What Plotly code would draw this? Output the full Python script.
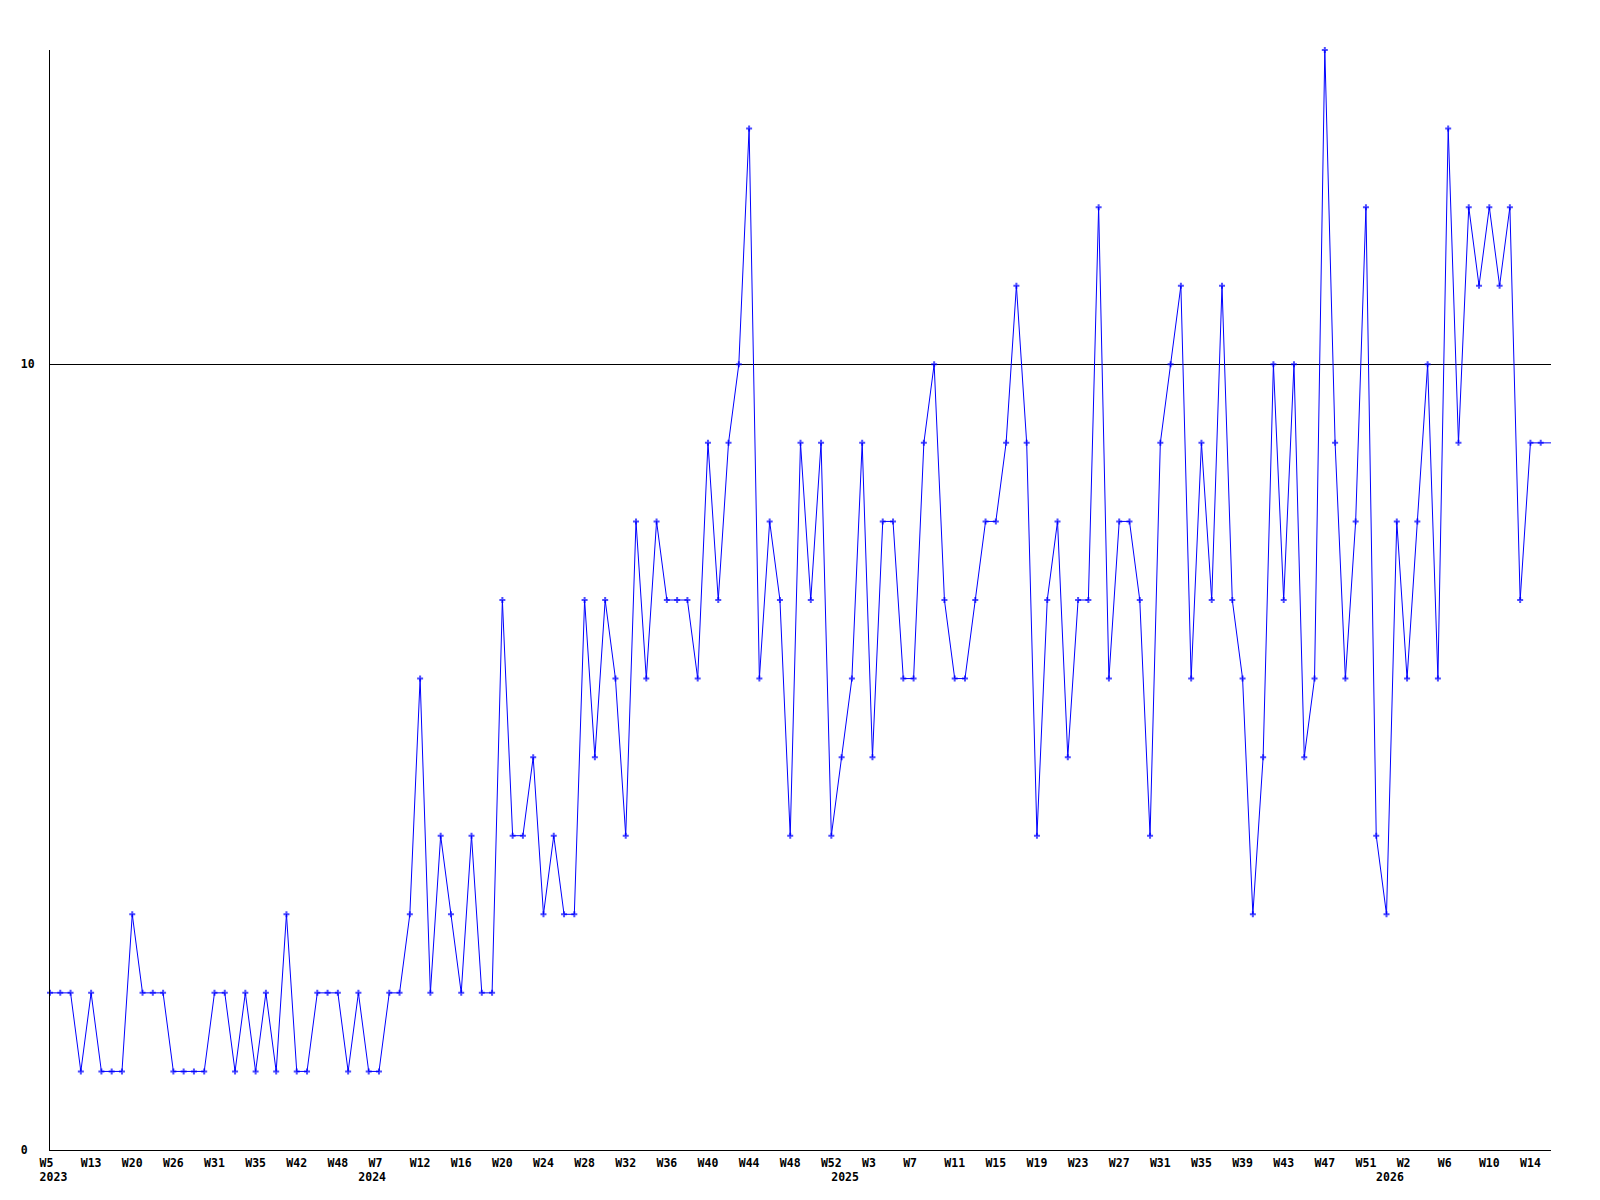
import plotly.graph_objects as go

# Weekly counts (one value per plotted week, in order)
values = [
    2, 2, 2, 1, 2, 1, 1, 1, 3, 2, 2, 2, 1, 1, 1, 1, 2, 2, 1, 2,
    1, 2, 1, 3, 1, 1, 2, 2, 2, 1, 2, 1, 1, 2, 2, 3, 6, 2, 4, 3,
    2, 4, 2, 2, 7, 4, 4, 5, 3, 4, 3, 3, 7, 5, 7, 6, 4, 8, 6, 8,
    7, 7, 7, 6, 9, 7, 9, 10, 13, 6, 8, 7, 4, 9, 7, 9, 4, 5, 6, 9,
    5, 8, 8, 6, 6, 9, 10, 7, 6, 6, 7, 8, 8, 9, 11, 9, 4, 7, 8, 5,
    7, 7, 12, 6, 8, 8, 7, 4, 9, 10, 11, 6, 9, 7, 11, 7, 6, 3, 5, 10,
    7, 10, 5, 6, 14, 9, 6, 8, 12, 4, 3, 8, 6, 8, 10, 6, 13, 9, 12, 11,
    12, 11, 12, 7, 9, 9,
]
# current (incomplete) week: drawn as line only
current_value = 9

# Week tick labels (every 4th plotted week)
week_labels = [
    "W5", "W13", "W20", "W26", "W31", "W35", "W42", "W48",
    "W7", "W12", "W16", "W20", "W24", "W28", "W32", "W36", "W40", "W44", "W48", "W52",
    "W3", "W7", "W11", "W15", "W19", "W23", "W27", "W31", "W35", "W39", "W43", "W47", "W51",
    "W2", "W6", "W10", "W14",
]
week_step = 4

# Year labels and the plotted-week index where each year begins
year_labels = ["2023", "2024", "2025", "2026"]
year_start_index = [0, 31, 77, 130]

y_tick_values = [0, 10]

NB = "\u00a0"

x_all = list(range(len(values) + 1))
y_all = values + [current_value]
marker_sizes = [5] * len(values) + [0]

week_tickvals = [i * week_step for i in range(len(week_labels))]
week_ticktext = [lab + NB * (3 - len(lab)) for lab in week_labels]
year_ticktext = [NB + y for y in year_labels]
y_ticktext = [str(v) + NB * (2 - len(str(v))) for v in y_tick_values]

font = dict(family="DejaVu Sans Mono", size=11.5, color="black", weight="bold")

fig = go.Figure()
fig.add_trace(go.Scatter(
    x=x_all, y=y_all, mode="lines+markers",
    line=dict(color="#0000ff", width=1),
    marker=dict(symbol="cross", size=marker_sizes, color="#0000ff", line=dict(width=0)),
    cliponaxis=False, showlegend=False, hoverinfo="x+y",
))
# invisible trace so the year axis is drawn
fig.add_trace(go.Scatter(
    x=year_start_index, y=[None] * len(year_start_index), xaxis="x2",
    mode="markers", showlegend=False, hoverinfo="skip",
))

x_max = len(values)

fig.update_layout(
    width=1600, height=1200,
    margin=dict(l=50, r=49, t=50, b=50),
    paper_bgcolor="white", plot_bgcolor="white",
    font=font,
    xaxis=dict(
        range=[0, x_max], showgrid=False, zeroline=False,
        showline=True, linecolor="black", linewidth=1,
        tickmode="array", tickvals=week_tickvals, ticktext=week_ticktext,
        ticks="", tickfont=font, ticklabelstandoff=2,
    ),
    xaxis2=dict(
        range=[0, x_max], overlaying="x", side="bottom", anchor="y",
        showgrid=False, zeroline=False, showline=False,
        tickmode="array", tickvals=year_start_index, ticktext=year_ticktext,
        ticks="", tickfont=font, ticklabelstandoff=18,
    ),
    yaxis=dict(
        range=[0, 14], showgrid=True, gridcolor="black", gridwidth=1,
        zeroline=False, showline=True, linecolor="black", linewidth=1,
        tickmode="array", tickvals=y_tick_values, ticktext=y_ticktext,
        ticks="", tickfont=font, ticklabelstandoff=12,
    ),
)

fig.write_html("out.html", config={"displayModeBar": False},
               post_script="document.body.style.margin='0';")
